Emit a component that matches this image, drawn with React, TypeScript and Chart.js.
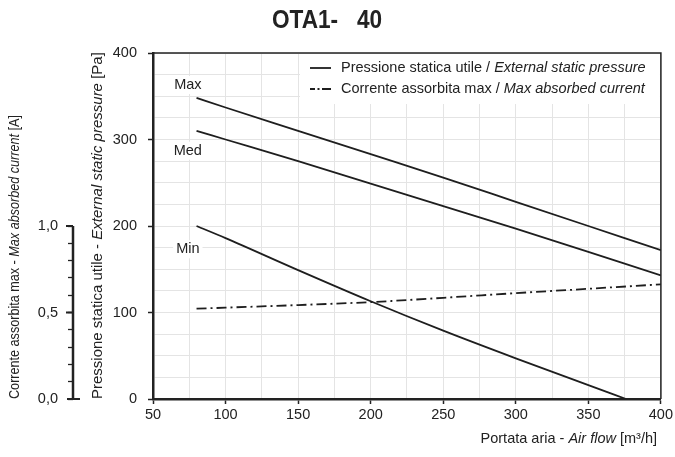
import React, { useEffect, useRef } from 'react';
import { Chart, registerables } from 'chart.js';

Chart.register(...registerables);

const FONT = '"Liberation Sans", Arial, sans-serif';
const TEXT = '#222222';
const AXIS = '#222222';
const GRID = '#e4e4e4';
const LINE = '#1e1e1e';
const FS = 14.5;

const chartTitle = 'OTA1-   40';
const airflow = [80, 100, 150, 200, 250, 300, 350, 400];
const airflowMin = [80, 100, 150, 200, 250, 300, 350, 376];
const pressureMax = [348, 337, 310, 283, 256, 228, 200, 172];
const pressureMed = [310, 300, 275, 249, 223, 197, 170, 143];
const pressureMin = [200, 186, 149, 113, 79, 47, 16, 0];
const currentMax = [0.522, 0.528, 0.543, 0.56, 0.585, 0.612, 0.637, 0.663];
const speedNames = ['Max', 'Med', 'Min'];
const speedLabelAirflow = [74, 74, 74];
const speedLabelPressure = [363, 287, 173];

type Part = [string, boolean];
const legendPressure: Part[] = [['Pressione statica utile / ', false], ['External static pressure', true]];
const legendCurrent: Part[] = [['Corrente assorbita max / ', false], ['Max absorbed current', true]];
const yTitle: Part[] = [['Pressione statica utile - ', false], ['External static pressure', true], [' [Pa]', false]];
const y2Title: Part[] = [['Corrente assorbita max - ', false], ['Max absorbed current', true], [' [A]', false]];
const xTitle: Part[] = [['Portata aria - ', false], ['Air flow', true], [' [m³/h]', false]];

function fontOf(italic: boolean, size: number, family = FONT) {
  return `${italic ? 'italic ' : ''}${size}px ${family}`;
}

function drawParts(
  ctx: CanvasRenderingContext2D,
  parts: Part[],
  x: number,
  y: number,
  size: number,
  align: 'left' | 'right' | 'center',
  stretch = 1,
) {
  const widths = parts.map(([t, it]) => {
    ctx.font = fontOf(it, size);
    return ctx.measureText(t).width;
  });
  const total = widths.reduce((a, b) => a + b, 0) * stretch;
  let start = align === 'right' ? x - total : align === 'center' ? x - total / 2 : x;
  ctx.save();
  ctx.translate(start, y);
  ctx.scale(stretch, 1);
  ctx.textAlign = 'left';
  let cur = 0;
  parts.forEach(([t, it], i) => {
    ctx.font = fontOf(it, size);
    ctx.fillText(t, cur, 0);
    cur += widths[i];
  });
  ctx.restore();
  return total;
}

const decor = {
  id: 'decor',
  beforeDatasetsDraw(chart: any) {
    const { ctx, chartArea, scales } = chart;
    ctx.save();
    ctx.fillStyle = '#ffffff';
    ctx.fillRect(300, chartArea.top + 1, chartArea.right - 300 - 1, 50);
    ctx.font = fontOf(false, FS);
    ctx.textBaseline = 'middle';
    speedNames.forEach((name, i) => {
      const px = scales.x.getPixelForValue(speedLabelAirflow[i]);
      const py = scales.y.getPixelForValue(speedLabelPressure[i]);
      const w = ctx.measureText(name).width;
      ctx.fillStyle = '#ffffff';
      ctx.fillRect(px - w / 2 - 3, py - 9, w + 6, 18);
      ctx.fillStyle = TEXT;
      ctx.textAlign = 'center';
      ctx.fillText(name, px, py);
    });
    ctx.restore();
  },
  afterDraw(chart: any) {
    const { ctx, chartArea, scales } = chart;
    ctx.save();
    ctx.strokeStyle = AXIS;
    ctx.lineWidth = 1.5;
    ctx.beginPath();
    ctx.moveTo(chartArea.left, chartArea.top);
    ctx.lineTo(chartArea.right, chartArea.top);
    ctx.lineTo(chartArea.right, chartArea.bottom);
    ctx.stroke();
    const y2 = scales.y2;
    ctx.lineWidth = 2.5;
    ctx.beginPath();
    ctx.moveTo(y2.right, y2.getPixelForValue(0) + 1);
    ctx.lineTo(y2.right, y2.getPixelForValue(1));
    ctx.stroke();
    ctx.lineWidth = 2;
    ctx.beginPath();
    ctx.moveTo(y2.right - 6, y2.getPixelForValue(0));
    ctx.lineTo(y2.right + 7, y2.getPixelForValue(0));
    [0.5, 1].forEach((v) => {
      ctx.moveTo(y2.right - 7, y2.getPixelForValue(v));
      ctx.lineTo(y2.right, y2.getPixelForValue(v));
    });
    ctx.stroke();

    ctx.fillStyle = TEXT;
    ctx.textBaseline = 'middle';
    const ly1 = 68, ly2 = 89;
    ctx.lineWidth = 1.8;
    ctx.strokeStyle = LINE;
    ctx.beginPath();
    ctx.moveTo(310, ly1);
    ctx.lineTo(331, ly1);
    ctx.stroke();
    ctx.beginPath();
    ctx.moveTo(310, ly2); ctx.lineTo(315, ly2);
    ctx.moveTo(317.5, ly2); ctx.lineTo(319.5, ly2);
    ctx.moveTo(322, ly2); ctx.lineTo(331, ly2);
    ctx.stroke();
    drawParts(ctx, legendPressure, 341, ly1, FS, 'left');
    drawParts(ctx, legendCurrent, 341, ly2, FS, 'left');

    ctx.save();
    ctx.translate(327, 21);
    ctx.scale(0.87, 1);
    ctx.font = `bold 26px ${FONT}`;
    ctx.textAlign = 'center';
    ctx.fillText(chartTitle, 0, 0);
    ctx.restore();

    ctx.save();
    ctx.translate(97.5, chartArea.bottom);
    ctx.rotate(-Math.PI / 2);
    drawParts(ctx, yTitle, 0, 0, 15, 'left', 1.0);
    ctx.restore();
    ctx.save();
    ctx.translate(15, chartArea.bottom);
    ctx.rotate(-Math.PI / 2);
    drawParts(ctx, y2Title, 0, 0, 14.5, 'left', 0.87);
    ctx.restore();
    drawParts(ctx, xTitle, 657, 439, FS, 'right');
    ctx.restore();
  },
};

const tickFont = { family: FONT, size: FS };

export default function App() {
  const ref = useRef<HTMLCanvasElement | null>(null);
  useEffect(() => {
    if (!ref.current) return;
    const lineDs = (label: string, xs: number[], ys: number[]) => ({
      label,
      data: xs.map((x, i) => ({ x, y: ys[i] })),
      yAxisID: 'y',
      borderColor: LINE,
      borderWidth: 1.8,
      pointRadius: 0,
      fill: false,
      cubicInterpolationMode: 'monotone' as const,
    });
    const chart = new Chart(ref.current, {
      type: 'line',
      data: {
        datasets: [
          lineDs('Max', airflow, pressureMax),
          lineDs('Med', airflow, pressureMed),
          lineDs('Min', airflowMin, pressureMin),
          {
            label: 'Corrente',
            data: airflow.map((x, i) => ({ x, y: currentMax[i] })),
            yAxisID: 'y2',
            borderColor: LINE,
            borderWidth: 1.8,
            borderDash: [10, 4, 2, 4],
            pointRadius: 0,
            fill: false,
            cubicInterpolationMode: 'monotone' as const,
          },
        ],
      },
      options: {
        responsive: false,
        animation: false,
        layout: { padding: { top: 53, right: 14, left: 0, bottom: 0 } },
        plugins: { legend: { display: false }, title: { display: false }, tooltip: { enabled: false } },
        scales: {
          x: {
            type: 'linear',
            position: 'bottom',
            min: 50,
            max: 400,
            afterFit: (s: any) => { s.height = 58; },
            ticks: {
              stepSize: 25,
              autoSkip: false,
              maxRotation: 0,
              padding: 2,
              color: TEXT,
              font: tickFont,
              callback: (v: any) => (Number(v) % 50 === 0 ? String(v) : ''),
            },
            grid: {
              color: GRID,
              lineWidth: 1,
              tickLength: 5,
              tickWidth: 1.5,
              tickColor: (c: any) => (c.tick && c.tick.value % 50 === 0 ? AXIS : 'rgba(0,0,0,0)'),
            },
            border: { display: true, color: AXIS, width: 2.5 },
          },
          y: {
            type: 'linear',
            position: 'left',
            weight: 0,
            min: 0,
            max: 400,
            afterFit: (s: any) => { s.width = 80; },
            ticks: {
              stepSize: 25,
              autoSkip: false,
              padding: 11,
              color: TEXT,
              font: tickFont,
              callback: (v: any) => (Number(v) % 100 === 0 ? String(v) : ''),
            },
            grid: {
              color: GRID,
              lineWidth: 1,
              tickLength: 5,
              tickWidth: 1.5,
              tickColor: (c: any) => (c.tick && c.tick.value % 100 === 0 ? AXIS : 'rgba(0,0,0,0)'),
            },
            border: { display: true, color: AXIS, width: 2.5 },
          },
          y2: {
            type: 'linear',
            position: 'left',
            weight: 10,
            min: 0,
            max: 2,
            afterFit: (s: any) => { s.width = 73; },
            afterBuildTicks: (s: any) => { s.ticks = s.ticks.filter((t: any) => t.value <= 1.0001); },
            ticks: {
              stepSize: 0.1,
              autoSkip: false,
              padding: 10,
              color: TEXT,
              font: tickFont,
              callback: (v: any) => {
                const n = Number(v);
                return Math.abs(n * 2 - Math.round(n * 2)) < 1e-6 ? n.toFixed(1).replace('.', ',') : '';
              },
            },
            grid: {
              drawOnChartArea: false,
              color: AXIS,
              tickColor: AXIS,
              tickLength: 5,
              tickWidth: 1.3,
            },
            border: { display: false },
          },
        },
      },
      plugins: [decor],
    });
    return () => chart.destroy();
  }, []);
  return (
    <canvas
      ref={ref}
      width={675}
      height={457}
      style={{ position: 'absolute', left: 0, top: 0, width: 675, height: 457 }}
    />
  );
}
